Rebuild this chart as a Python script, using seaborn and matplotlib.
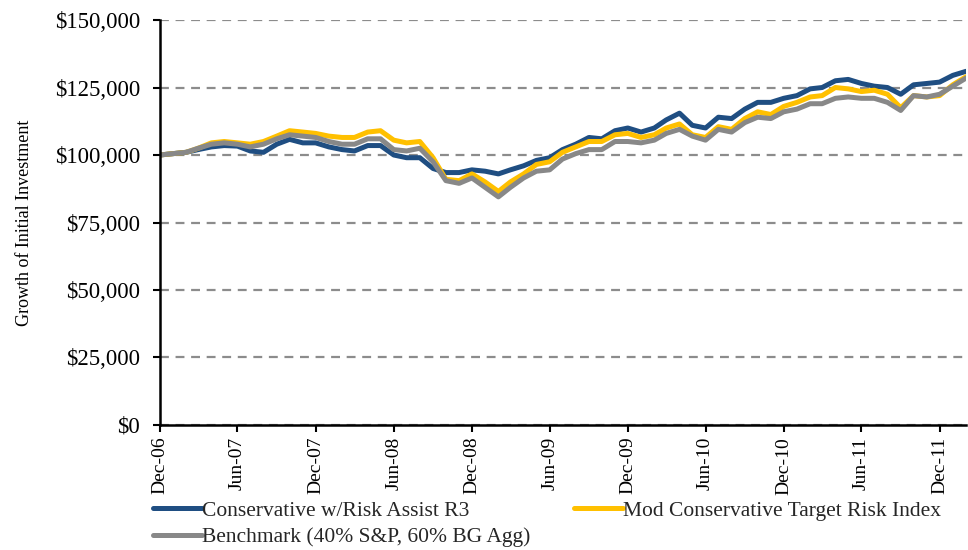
import pandas as pd
import numpy as np
import matplotlib
matplotlib.use("Agg")
import matplotlib.pyplot as plt
import matplotlib.dates as mdates
import matplotlib.ticker as mticker
import seaborn as sns

# Crescimento de $100.000 investidos, valores mensais (em milhares de $)

meses = pd.date_range("2006-12-01", "2012-02-01", freq="MS")

conservative = [
    100, 100.5, 101, 102, 103, 103.5, 103.3, 101.5, 101, 104, 105.8, 104.5,
    104.5, 103, 102, 101.5, 103.5, 103.5, 100, 99, 99, 95, 93.5, 93.5,
    94.5, 94, 93, 94.5, 96, 98, 99, 102, 104, 106.5, 106, 109,
    110, 108.5, 110, 113, 115.5, 111, 110, 114, 113.5, 117, 119.5, 119.5,
    121, 122, 124.5, 125, 127.5, 128, 126.5, 125.5, 125, 122.5, 126, 126.5,
    127, 129.5, 131,
]

mod_conservative = [
    100, 100.5, 101, 102.5, 104.5, 105, 104.5, 104, 105, 107, 109, 108.5,
    108, 107, 106.5, 106.5, 108.5, 109, 105.5, 104.5, 105, 99, 91, 90.5,
    93, 90, 86.5, 90, 93, 96.5, 97.5, 101, 103, 105, 105, 107.5,
    108, 106.5, 107.5, 110, 111.5, 107.5, 106.5, 110.5, 109.5, 113.5, 116, 115,
    118, 119.5, 121.5, 122, 125, 124.5, 123.5, 124, 122.5, 117.5, 122, 121.5,
    122, 126, 129,
]

benchmark = [
    100, 100.5, 101, 102.5, 104, 104.5, 104, 103, 104, 106, 107.5, 107,
    106.5, 105, 104, 104, 106, 106, 102, 101.5, 102.5, 97.5, 90.5, 89.5,
    91.5, 88, 84.5, 88, 91.5, 94, 94.5, 98.5, 100.5, 102, 102, 105,
    105, 104.5, 105.5, 108, 109.5, 107, 105.5, 109.5, 108.5, 112, 114, 113.5,
    116, 117, 119, 119, 121, 121.5, 121, 121, 119.5, 116.5, 122, 121.5,
    122.5, 125.5, 128.5,
]

nomes = [
    "Conservative w/Risk Assist R3",
    "Mod Conservative Target Risk Index",
    "Benchmark (40% S&P, 60% BG Agg)",
]
cores = ["#1F4E82", "#FFC000", "#888888"]

dados = pd.concat(
    [
        pd.DataFrame({"Mês": meses, "Valor": np.array(serie) * 1000, "Série": nome})
        for nome, serie in zip(nomes, [conservative, mod_conservative, benchmark])
    ],
    ignore_index=True,
)

##### Visualização #####

sns.set_theme(style="white")
plt.rcParams["font.family"] = ["Liberation Serif", "DejaVu Serif"]

fig = plt.figure(figsize=(9.68, 5.5), dpi=100)
ax = fig.add_axes([0.165, 0.2273, 0.833, 0.7363])

sns.lineplot(
    data=dados,
    x="Mês",
    y="Valor",
    hue="Série",
    hue_order=nomes,
    palette=cores,
    linewidth=3.6,
    ax=ax,
)

ax.set_ylim(0, 150000)
ax.set_xlim(meses[0], meses[-1])
ax.yaxis.set_major_locator(mticker.MultipleLocator(25000))
ax.yaxis.set_major_formatter(mticker.FuncFormatter(lambda v, p: f"${v:,.0f}"))
ax.grid(axis="y", color="#8c8c8c", linestyle=(0, (4, 3)), linewidth=1.6)
ax.set_axisbelow(True)

ticks_x = pd.date_range("2006-12-01", "2011-12-01", freq="6MS")
ax.set_xticks(ticks_x)
ax.xaxis.set_major_formatter(mdates.DateFormatter("%b-%y"))
plt.setp(ax.get_xticklabels(), rotation=90)

for lado in ["top", "right"]:
    ax.spines[lado].set_visible(False)
for lado in ["left", "bottom"]:
    ax.spines[lado].set_color("black")
    ax.spines[lado].set_linewidth(1.8)

ax.tick_params(axis="both", direction="out", length=5, width=1.5, color="black",
               labelsize=14, labelcolor="black", left=True, bottom=True)
ax.tick_params(axis="y", labelsize=16.5, pad=9)
ax.set_xlabel("")
ax.set_ylabel("Growth of Initial Investment", fontsize=13, color="black", labelpad=16)

# legenda em duas colunas, preenchida por linha como no original
handles, labels = ax.get_legend_handles_labels()
ax.get_legend().remove()
ordem = [0, 2, 1]
fig.legend(
    [handles[i] for i in ordem],
    [labels[i] for i in ordem],
    loc="upper left",
    bbox_to_anchor=(0.158, 0.09),
    ncol=2,
    frameon=False,
    fontsize=15.5,
    handlelength=2.3,
    handletextpad=0.0,
    columnspacing=2.0,
    labelspacing=0.3,
    borderaxespad=0,
    borderpad=0,
)

fig.savefig("out.png", dpi=100)
